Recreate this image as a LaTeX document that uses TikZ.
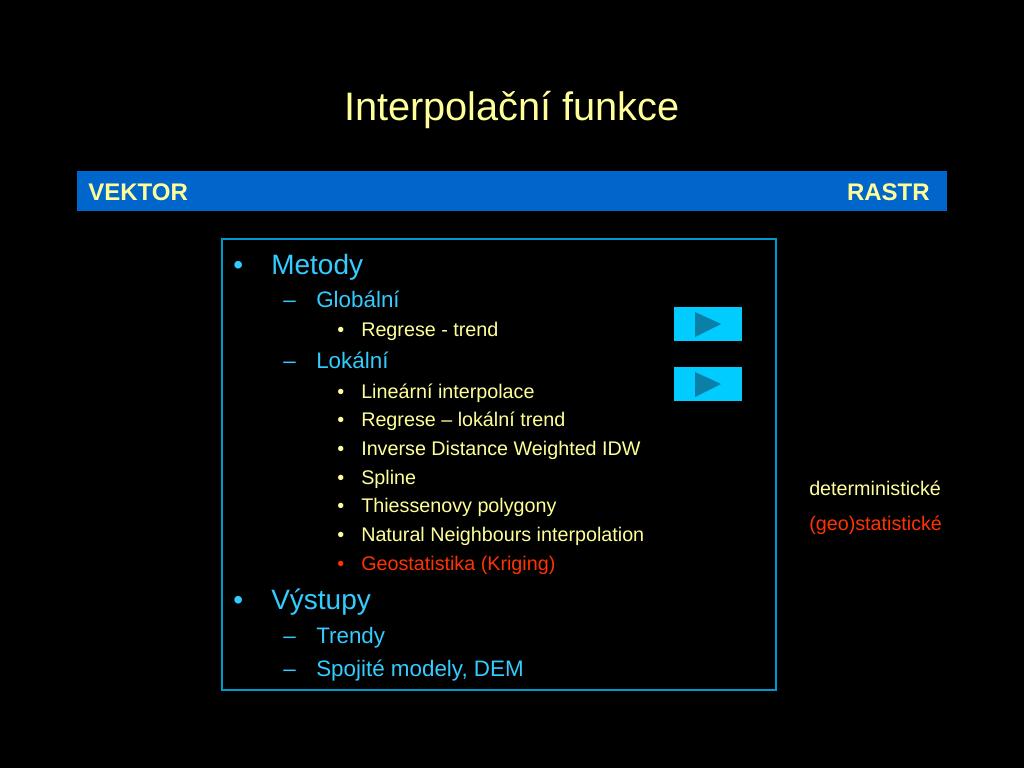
\documentclass[tikz,border=0pt]{standalone}
\usepackage{fontspec}
\setmainfont{Liberation Sans}
\begin{document}
\begin{tikzpicture}[x=0.75pt,y=-0.75pt,
  lvlA/.style={anchor=base west,inner sep=0pt,text=cyanT,font=\fontsize{21pt}{24pt}\selectfont},
  lvlB/.style={anchor=base west,inner sep=0pt,text=cyanT,font=\fontsize{16.8pt}{19pt}\selectfont},
  lvlC/.style={anchor=base west,inner sep=0pt,text=yellowT,font=\fontsize{14.8pt}{17pt}\selectfont},
  btn/.style={fill=btnC,draw=none,minimum width=51pt,minimum height=25.5pt,inner sep=0pt},
  tri/.style={fill=triC,draw=none}]
\definecolor{cyanT}{HTML}{33CCFF}
\definecolor{yellowT}{HTML}{FFFF99}
\definecolor{redT}{HTML}{FF3300}
\definecolor{barC}{HTML}{0066CC}
\definecolor{boxC}{HTML}{0099CC}
\definecolor{btnC}{HTML}{00CCFF}
\definecolor{triC}{HTML}{0A7FA8}
\fill[black] (0,0) rectangle (1024,768);
\useasboundingbox (0,0) rectangle (1024,768);
\node (title) at (512,110) [text=yellowT,font=\fontsize{29.8pt}{34pt}\selectfont,inner sep=0pt] {Interpolační funkce};
\node (bar) [fill=barC,minimum width=652.5pt,minimum height=30pt,inner sep=0pt] at (512,191) {};
\node (vek) [anchor=west,inner sep=0pt,text=yellowT,font=\fontsize{18pt}{20pt}\selectfont\bfseries] at (88,192) {VEKTOR};
\node (ras) [anchor=east,inner sep=0pt,text=yellowT,font=\fontsize{18pt}{20pt}\selectfont\bfseries] at (930,192) {RASTR};
\draw[boxC,line width=0.9pt] (222,239) rectangle (776,690);
% level A
\node (b1) [lvlA] at (233,274) {•};
\node (t1) [lvlA] at (271,274) {Metody};
\node (d1) [lvlB] at (283,307) {–};
\node (t2) [lvlB] at (316,307) {Globální};
\node (c1) [lvlC] at (337,336) {•};
\node (t3) [lvlC] at (361,336) {Regrese - trend};
\node (d2) [lvlB] at (283,368) {–};
\node (t4) [lvlB] at (316,368) {Lokální};
\node (c2) [lvlC] at (337,398) {•};
\node (t5) [lvlC] at (361,398) {Lineární interpolace};
\node (c3) [lvlC] at (337,426) {•};
\node (t6) [lvlC] at (361,426) {Regrese – lokální trend};
\node (c4) [lvlC] at (337,455) {•};
\node (t7) [lvlC] at (361,455) {Inverse Distance Weighted IDW};
\node (c5) [lvlC] at (337,484) {•};
\node (t8) [lvlC] at (361,484) {Spline};
\node (c6) [lvlC] at (337,512) {•};
\node (t9) [lvlC] at (361,512) {Thiessenovy polygony};
\node (c7) [lvlC] at (337,541) {•};
\node (t10) [lvlC] at (361,541) {Natural Neighbours interpolation};
\node (c8) [lvlC,text=redT] at (337,570) {•};
\node (t11) [lvlC,text=redT] at (361,570) {Geostatistika (Kriging)};
\node (b2) [lvlA] at (233,609) {•};
\node (t12) [lvlA] at (271,609) {Výstupy};
\node (d3) [lvlB] at (283,643) {–};
\node (t13) [lvlB] at (316,643) {Trendy};
\node (d4) [lvlB] at (283,676) {–};
\node (t14) [lvlB] at (316,676) {Spojité modely, DEM};
% buttons
\node (btn1) [btn] at (708,324) {};
\fill[tri] (695,312) -- (721,324) -- (695,337) -- cycle;
\node (btn2) [btn] at (708,384) {};
\fill[tri] (695,372) -- (721,384) -- (695,397) -- cycle;
% right labels
\node (det) [anchor=base west,inner sep=0pt,text=yellowT,font=\fontsize{14.8pt}{17pt}\selectfont] at (809,495) {deterministické};
\node (geo) [anchor=base west,inner sep=0pt,text=redT,font=\fontsize{14.8pt}{17pt}\selectfont] at (809,530) {(geo)statistické};
\end{tikzpicture}
\end{document}
